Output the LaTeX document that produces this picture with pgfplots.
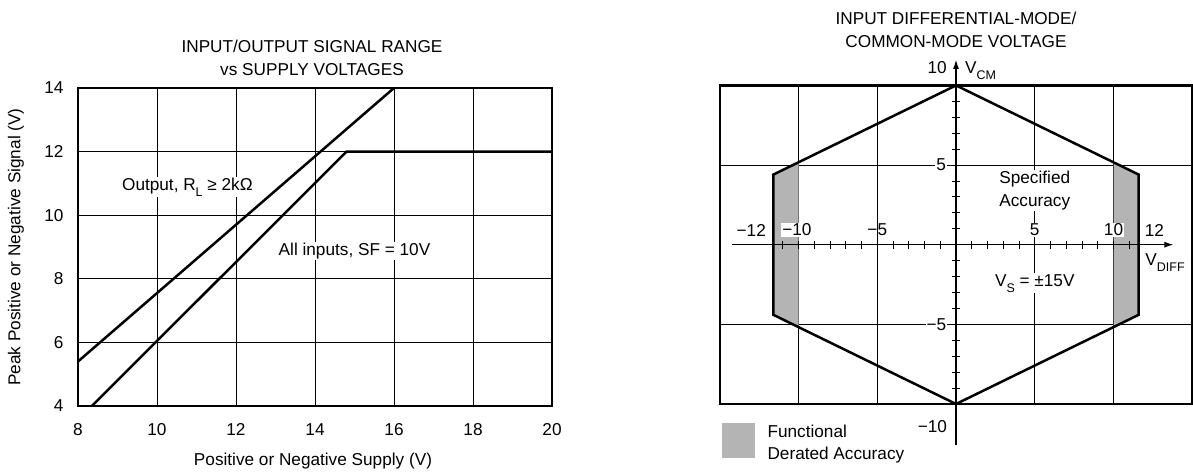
\documentclass[border=0pt]{standalone}
\usepackage{fontspec}
\setmainfont{Liberation Sans}
\usepackage{pgfplots}
\pgfplotsset{compat=1.18}
\usetikzlibrary{arrows.meta}
\definecolor{lgray}{RGB}{180,180,180}
\newcommand{\fs}{\fontsize{17.2}{23}\selectfont}
\newcommand{\sub}[1]{\raisebox{-0.35em}{\fontsize{12.5}{13}\selectfont #1}}
\tikzset{lab/.style={font=\fs}, wlab/.style={font=\fs, fill=white, inner sep=1pt}}

\begin{document}
\begin{tikzpicture}
\useasboundingbox (0pt,0pt) rectangle (1193pt,471pt);

% left chart: signal range vs supply
\begin{axis}[
  at={(78pt,65pt)}, anchor=south west,
  scale only axis, width=474pt, height=318pt,
  xmin=8, xmax=20, ymin=4, ymax=14,
  xtick={8,10,...,20}, ytick={4,6,...,14},
  grid=major, major grid style={black, line width=0.9pt},
  axis line style={line width=2.5pt},
  major tick length=0pt,
  tick label style={font=\fs},
  xticklabel style={yshift=-14pt},
  yticklabel style={xshift=-11pt},
  /pgf/number format/assume math mode=true,
]
\addplot[black, line width=2.5pt] coordinates {(8,5.4) (16,14)};
\addplot[black, line width=2.5pt] coordinates {(8.35,4) (14.8,12) (20,12)};
\node[wlab, anchor=base] at (axis cs:10.77,10.79) {Output, R\sub{L} ≥ 2kΩ};
\node[wlab, anchor=base] at (axis cs:15.0,8.72) {All inputs, SF = 10V};
\end{axis}
\node[lab, align=center] at (312pt,413pt) {INPUT/OUTPUT SIGNAL RANGE\\vs SUPPLY VOLTAGES};
\node[lab] at (313pt,10pt) {Positive or Negative Supply (V)};
\node[lab, rotate=90] at (16pt,224pt) {Peak Positive or Negative Signal (V)};

% right chart: box, grid, hexagon
\begin{axis}[
  at={(719.75pt,67pt)}, anchor=south west,
  scale only axis, width=472.5pt, height=318.6pt,
  xmin=-15, xmax=15, ymin=-10, ymax=10,
  xtick={-10,-5,5,10}, ytick={-5,5},
  xticklabels={}, yticklabels={},
  grid=major, major grid style={black, line width=0.9pt},
  major tick length=0pt,
  axis line style={line width=2.5pt},
]
\addplot[fill=lgray, draw=none] coordinates {(10,5.17) (11.6,4.4) (11.6,-4.4) (10,-5.17) (10,5.17)};
\addplot[fill=lgray, draw=none] coordinates {(-10,5.17) (-11.6,4.4) (-11.6,-4.4) (-10,-5.17) (-10,5.17)};
\addplot[black, line width=2.5pt, line join=miter] coordinates {(0,10) (11.6,4.4) (11.6,-4.4) (0,-10) (-11.6,-4.4) (-11.6,4.4) (0,10)};
\end{axis}

% right chart: V_DIFF / V_CM axes
\begin{axis}[
  at={(732.35pt,25.6pt)}, anchor=south west,
  x=15.75pt, y=15.93pt,
  xmin=-14.2, xmax=13.8, ymin=-12.6, ymax=11.6,
  axis lines=middle,
  axis line style={black, line width=1.1pt, -{Latex[length=9pt,width=6pt]}},
  xtick={-11,-10,...,-1,1,2,...,11}, ytick={-9,-8,...,-1,1,2,...,9},
  xticklabels={}, yticklabels={},
  tick align=center, major tick length=8pt,
  tick style={black, line width=0.9pt},
  clip=false,
]
\node[lab] at (axis cs:-13.0,0.92) {−12};
\node[wlab] at (axis cs:-10.1,0.92) {−10};
\node[lab] at (axis cs:-5,0.92) {−5};
\node[wlab] at (axis cs:5,0.92) {5};
\node[wlab] at (axis cs:10,0.92) {10};
\node[lab] at (axis cs:12.6,0.92) {12};
\node[wlab] at (axis cs:-0.95,5) {5};
\node[wlab] at (axis cs:-1.25,-5) {−5};
\node[lab] at (axis cs:-1.2,11.1) {10};
\node[lab] at (axis cs:-1.5,-11.4) {−10};
\node[lab, anchor=west] at (axis cs:0.35,10.95) {V\sub{CM}};
\node[lab, anchor=west] at (axis cs:11.8,-1.1) {V\sub{DIFF}};
\node[wlab, align=center] at (axis cs:5,3.4) {Specified\\Accuracy};
\node[wlab] at (axis cs:5,-2.42) {V\sub{S} = ±15V};
\end{axis}
\node[lab, align=center] at (956pt,441pt) {INPUT DIFFERENTIAL-MODE/\\COMMON-MODE VOLTAGE};
\fill[lgray] (722pt,13pt) rectangle (755pt,48pt);
\node[lab, anchor=base west] at (764pt,34pt) {Functional};
\node[lab, anchor=base west] at (764pt,12pt) {Derated Accuracy};
\end{tikzpicture}
\end{document}
